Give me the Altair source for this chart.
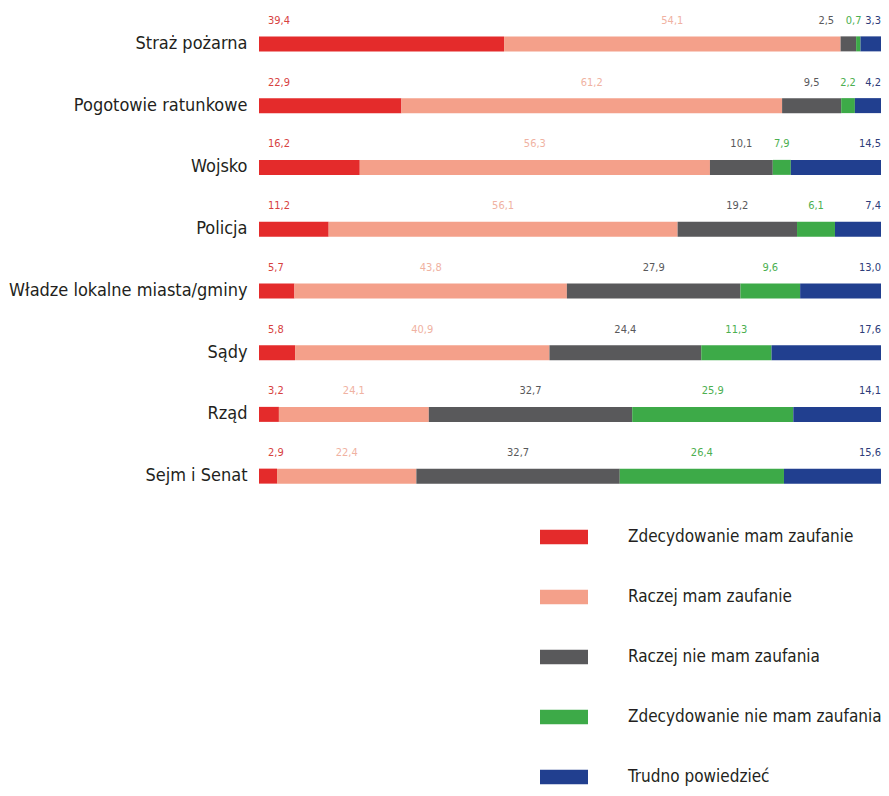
import altair as alt
import pandas as pd

categories = ["Straż pożarna", "Pogotowie ratunkowe", "Wojsko", "Policja",
              "Władze lokalne miasta/gminy", "Sądy", "Rząd", "Sejm i Senat"]
series = ["Zdecydowanie mam zaufanie", "Raczej mam zaufanie", "Raczej nie mam zaufania",
          "Zdecydowanie nie mam zaufania", "Trudno powiedzieć"]

zdec_mam = [39.4, 22.9, 16.2, 11.2, 5.7, 5.8, 3.2, 2.9]
raczej_mam = [54.1, 61.2, 56.3, 56.1, 43.8, 40.9, 24.1, 22.4]
raczej_nie = [2.5, 9.5, 10.1, 19.2, 27.9, 24.4, 32.7, 32.7]
zdec_nie = [0.7, 2.2, 7.9, 6.1, 9.6, 11.3, 25.9, 26.4]
trudno = [3.3, 4.2, 14.5, 7.4, 13.0, 17.6, 14.1, 15.6]
# in the source the "Wojsko" green bar is drawn ~2.9 long although labelled 7,9
zdec_nie_drawn = [0.7, 2.2, 2.9, 6.1, 9.6, 11.3, 25.9, 26.4]

bar_colors = ["#E42B2B", "#F4A08A", "#59595B", "#3DAA48", "#213F8F"]
label_colors = ["#D7423F", "#F0B2A2", "#59595B", "#4CAF50", "#2E3C7A"]

labels_vals = [zdec_mam, raczej_mam, raczej_nie, zdec_nie, trudno]
drawn_vals = [zdec_mam, raczej_mam, raczej_nie, zdec_nie_drawn, trudno]

rows = []
for ci, cat in enumerate(categories):
    start = 0.0
    for si, s in enumerate(series):
        d = drawn_vals[si][ci]
        rows.append({
            "cat": cat, "series": s, "order": si,
            "start": start, "end": start + d,
            "label": f"{labels_vals[si][ci]:.1f}".replace(".", ","),
        })
        start += d
df = pd.DataFrame(rows)

FONT = "Liberation Sans Narrow, DejaVu Sans Condensed, sans-serif"

y_enc = alt.Y("cat:N", sort=categories, title=None,
              scale=alt.Scale(paddingInner=0.76, paddingOuter=0.38),
              axis=alt.Axis(domain=False, ticks=False, labelFontSize=18,
                            labelFont=FONT, labelColor="#231F20", labelPadding=12,
                            labelLimit=400))
x_scale = alt.Scale(domain=[0, 100], nice=False)

base = alt.Chart(df)

bars = base.mark_bar(size=15).encode(
    x=alt.X("start:Q", scale=x_scale, axis=None),
    x2="end:Q",
    y=y_enc,
    color=alt.Color("series:N", sort=series,
                    scale=alt.Scale(domain=series, range=bar_colors),
                    legend=alt.Legend(orient="none", legendX=281, legendY=500,
                                      direction="vertical", title=None,
                                      symbolType="M-1,-0.3H1V0.3H-1Z",
                                      symbolSize=2304, symbolStrokeWidth=0,
                                      symbolOpacity=1,
                                      labelFontSize=17, labelFont=FONT,
                                      labelColor="#231F20", labelOffset=40,
                                      rowPadding=28, labelLimit=400)),
)

text_common = dict(fontSize=11, font=FONT, dy=-23)
lc = alt.Color("series:N", scale=alt.Scale(domain=series, range=label_colors),
               legend=None)

t_red = base.transform_filter(alt.datum.order == 0).mark_text(
    align="left", dx=9, **text_common).encode(
    x=alt.X("start:Q", scale=x_scale), y=alt.Y("cat:N", sort=categories),
    text="label:N", color=lc)
# centred labels, kept clear of the right-hand labels when segments are tiny
t_mid = base.transform_filter((alt.datum.order > 0) & (alt.datum.order < 4)).transform_calculate(
    pos="min((datum.start + datum.end) / 2, 100 - (4 - datum.order) * 4.4)"
).mark_text(align="center", **text_common).encode(
    x=alt.X("pos:Q", scale=x_scale), y=alt.Y("cat:N", sort=categories),
    text="label:N", color=lc)
t_blue = base.transform_filter(alt.datum.order == 4).mark_text(
    align="right", dx=0, **text_common).encode(
    x=alt.X("end:Q", scale=x_scale), y=alt.Y("cat:N", sort=categories),
    text="label:N", color=lc)

chart = alt.layer(bars, t_red, t_mid, t_blue).resolve_scale(color="independent").properties(
    width=622, height=494,
    autosize=alt.AutoSizeParams(type="none"),
    padding={"left": 251, "top": 5, "right": 0, "bottom": 281},
).configure_view(strokeWidth=0, stroke=None)

chart.save("out.html", embed_options={"renderer": "svg", "actions": False})
